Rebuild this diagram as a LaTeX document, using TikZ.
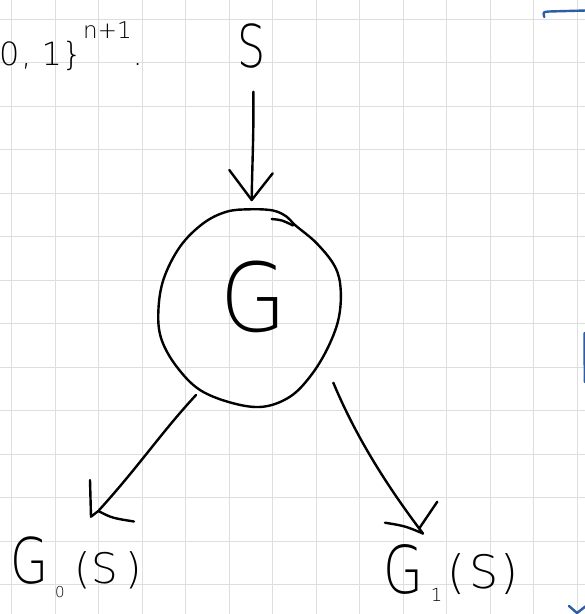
\documentclass[tikz,border=0pt]{standalone}
\usepackage{graphicx}
\usepackage{fontspec}
\IfFontExistsTF{DejaVu Sans ExtraLight}
  {\newfontfamily\hwfont{DejaVu Sans ExtraLight}}
  {\IfFontExistsTF{DejaVuSans-ExtraLight.ttf}
     {\newfontfamily\hwfont{DejaVuSans-ExtraLight.ttf}}
     {\newcommand\hwfont{\sffamily}}}
\definecolor{gridc}{HTML}{DEDEDE}
\definecolor{inkblue}{HTML}{2B5EA6}
\tikzset{
  ink/.style={line width=2.4pt, line cap=round, line join=round, black},
  blueink/.style={line width=2.4pt, line cap=round, line join=round, inkblue},
  hand/.style={inner sep=0pt, outer sep=0pt, font=\hwfont},
  gridline/.style={gridc, line width=1.3pt}
}
\newcommand\hwsize[1]{\fontsize{#1}{#1}\selectfont}
\begin{document}
\begin{tikzpicture}[x=1pt,y=-1pt]
\useasboundingbox (0,0) rectangle (585,614);
\clip (0,0) rectangle (585,614);
\fill[white] (0,0) rectangle (585,614);
% grid paper
\foreach \i in {0,...,13} {\draw[gridline] ({11.7+43.5*\i},0) -- ({11.7+43.5*\i},614);}
\foreach \j in {0,...,13} {\draw[gridline] (0,{19.3+43.5*\j}) -- (585,{19.3+43.5*\j});}
% texts
\node[hand, anchor=base west] (lbl) at (-1,65) {\hwsize{32}0\hspace{2pt},\hspace{10pt}1\hspace{0pt}\}\hspace{1pt}\raisebox{27pt}{\hwsize{23}n+1}\hspace{1pt}.};
\node[hand, anchor=base] (s) at (251.5,67) {\scalebox{0.75}[1]{\hwsize{59}S}};
\node[hand, anchor=base] (g) at (253.5,331) {\scalebox{0.9}[1]{\hwsize{95}G}};
\node[hand, anchor=base west] (g0) at (10,583) {\scalebox{0.78}[1]{\hwsize{63}G}\hspace{7pt}\raisebox{-14pt}{\hwsize{15}0}\hspace{10pt}{\hwsize{42}(\hspace{1pt}S\hspace{7pt})}};
\node[hand, anchor=base west] (g1) at (383,593) {\scalebox{0.78}[1]{\hwsize{66}G}\hspace{8pt}\raisebox{-8pt}{\hwsize{18}1}\hspace{5pt}\raisebox{5pt}{\hwsize{46}(\hspace{4pt}S\hspace{2pt})}};
% hand-drawn circle round G
\draw[ink] plot[smooth cycle, tension=0.6] coordinates {
 (226.7,211.7) (250,209.3) (273,210.5) (286.7,216.7) (295,225) (316.7,243.3)
 (335,266.7) (340.7,290) (338.3,320) (326.7,350) (310,376.7) (290,396.7)
 (263.3,406.7) (233.3,403.3) (200,390) (176.7,366.7) (161.7,340) (158.3,313.3)
 (163.3,280) (180,246.7) (203.3,223.3)};
\draw[ink] (271.7,219) .. controls (282,220) .. (293,225.5);
% arrow S -> G
\coordinate (a1s) at (253.3,91.7);
\coordinate (a1t) at (251.7,200);
\coordinate (a1l) at (229.3,170);
\coordinate (a1r) at (272.7,173.3);
\draw[ink] (a1s) .. controls (254,130) and (252,170) .. (a1t);
\draw[ink] (a1l) -- (a1t) -- (a1r);
% arrow G -> G0(S)
\coordinate (a2s) at (196,395);
\coordinate (a2t) at (98.3,511);
\coordinate (a2c) at (91,516.7);
\coordinate (a2u) at (90,480);
\coordinate (a2r) at (134,521.5);
\draw[ink] (a2s) .. controls (160,434) and (140,465) .. (a2t);
\draw[ink] (a2u) -- (a2c) -- (a2t);
\draw[ink] (a2t) .. controls (112,518) .. (a2r);
% arrow G -> G1(S)
\coordinate (a3s) at (333.3,382.7);
\coordinate (a3t) at (423,533.5);
\coordinate (a3l) at (385,522.7);
\coordinate (a3r) at (437.3,501.7);
\coordinate (a3m) at (419.3,528.3);
\draw[ink] (a3s) .. controls (353.6,431.2) and (382.2,479.8) .. (a3t);
\draw[ink] (a3l) .. controls (405,526) .. (a3t);
\draw[ink] (a3r) -- (a3m);
% blue marks at the right edge
\draw[blueink] (544.3,17) .. controls (543,12) .. (549,11.5) -- (586,10.5);
\draw[blueink] (584.5,333) -- (584.8,382);
\draw[blueink] (569,606) .. controls (573,609) .. (577,613) -- (586,606);
\end{tikzpicture}
\end{document}
